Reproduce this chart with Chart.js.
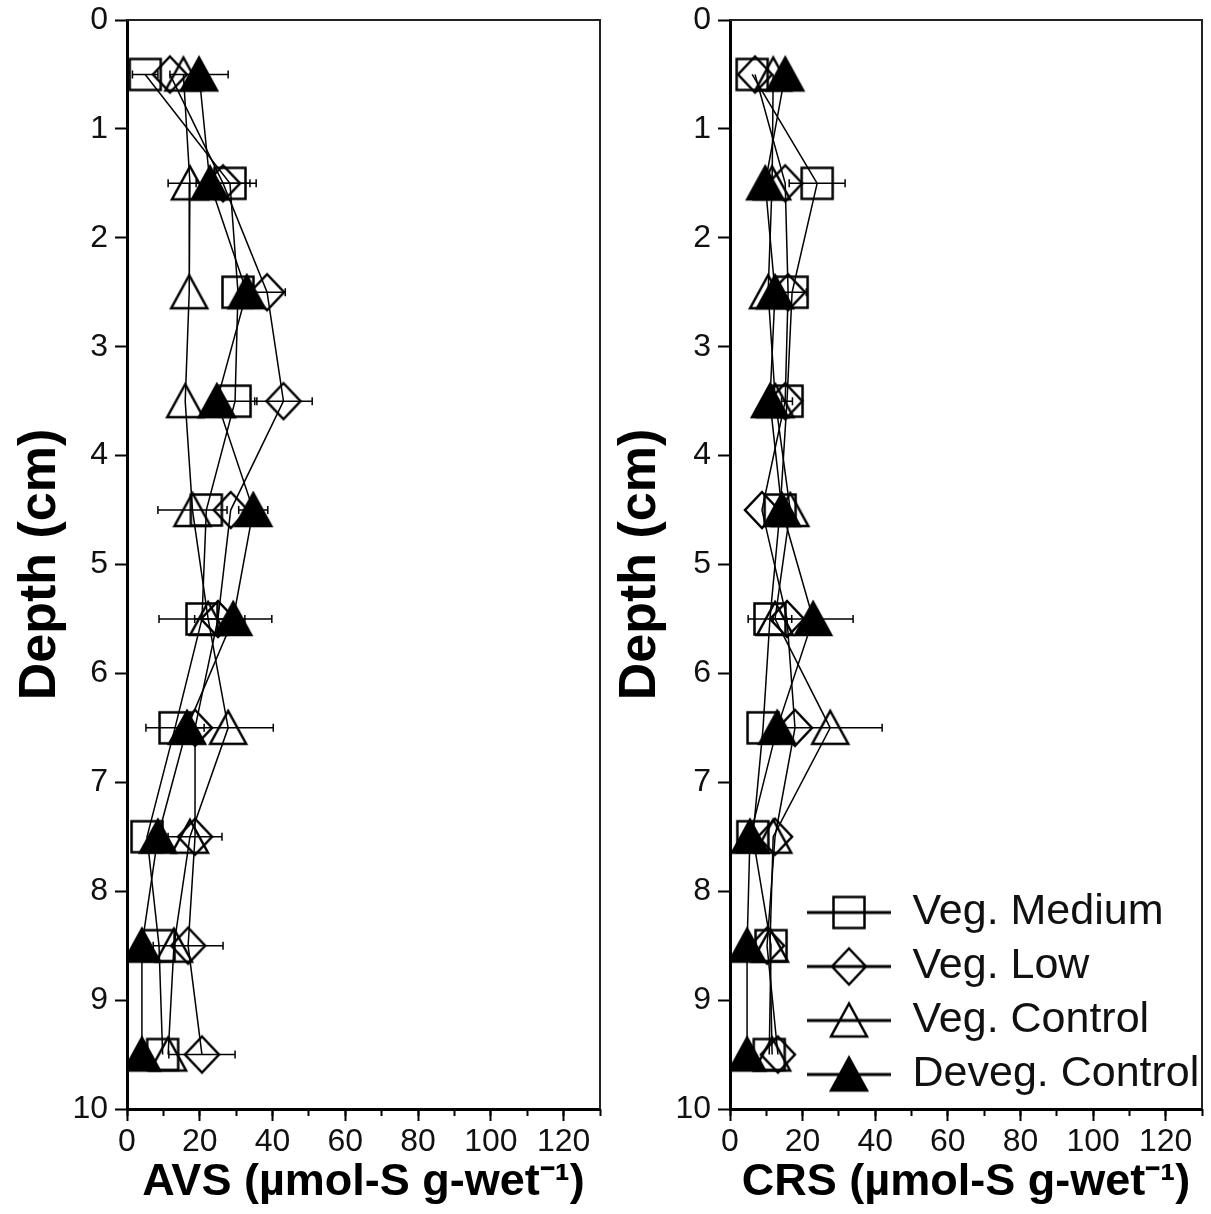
<!DOCTYPE html>
<html>
<head>
<meta charset="utf-8">
<script src="https://cdn.jsdelivr.net/npm/chart.js@4.4.1/dist/chart.umd.min.js"></script>
<style>
  body { margin: 0; background: #fff; }
  #wrap { position: relative; width: 1211px; height: 1214px; }
  canvas { position: absolute; top: 0; }
  #avsChart { left: 0; }
  #crsChart { left: 605px; }
</style>
</head>
<body>
<div id="wrap">
  <canvas id="avsChart" width="605" height="1214"></canvas>
  <canvas id="crsChart" width="606" height="1214"></canvas>
</div>
<script>
// ----- Data -----
const depths = [0.5, 1.5, 2.5, 3.5, 4.5, 5.5, 6.5, 7.5, 8.5, 9.5];
const seriesLabels = ['Veg. Medium', 'Veg. Low', 'Veg. Control', 'Deveg. Control'];
const xTicks = [0, 20, 40, 60, 80, 100, 120];
const xMinorTicks = [0, 10, 20, 30, 40, 50, 60, 70, 80, 90, 100, 110, 120, 130];
const depthTicks = [0, 1, 2, 3, 4, 5, 6, 7, 8, 9, 10];

// AVS (umol-S per g wet)
const avsVegMedium    = [5.0, 28.3, 30.5, 29.7, 21.8, 20.6, 13.2, 5.5, 8.8, 9.8];
const avsVegLow       = [11.8, 26.4, 38.5, 43.0, 28.5, 25.0, 18.7, 18.7, 16.8, 20.6];
const avsVegControl   = [15.5, 17.3, 17.1, 16.0, 18.0, 22.3, 27.8, 17.3, 12.9, 11.3];
const avsDevegControl = [19.8, 22.8, 32.9, 24.7, 34.7, 29.2, 16.5, 8.5, 4.1, 4.1];
// error half-widths, 0 = no bar
const avsVegMediumErr    = [3.5, 7.2, 0, 6.0, 0, 11.8, 8.0, 0, 0, 0];
const avsVegLowErr       = [0, 7.4, 5.0, 7.9, 0, 0, 0, 7.4, 9.6, 9.1];
const avsVegControlErr   = [0, 6.0, 0, 0, 9.5, 0, 12.4, 0, 0, 0];
const avsDevegControlErr = [8.0, 0, 0, 0, 4.0, 10.6, 0, 0, 0, 0];

// CRS (umol-S per g wet)
const crsVegMedium    = [6.1, 24.0, 17.1, 15.7, 13.8, 11.0, 9.1, 6.3, 11.3, 10.8];
const crsVegLow       = [6.9, 15.2, 16.0, 15.2, 8.8, 15.7, 17.9, 12.4, 10.2, 13.2];
const crsVegControl   = [11.9, 11.6, 10.5, 12.5, 16.6, 12.4, 27.6, 11.9, 11.0, 11.6];
const crsDevegControl = [15.2, 9.7, 12.4, 11.0, 14.3, 22.9, 13.0, 5.5, 4.7, 4.7];
const crsVegMediumErr    = [0, 7.7, 3.9, 1.5, 0, 6.0, 0, 0, 0, 0];
const crsVegLowErr       = [0, 0, 0, 0, 0, 0, 0, 0, 0, 0];
const crsVegControlErr   = [0, 0, 0, 0, 0, 0, 14.3, 0, 0, 0];
const crsDevegControlErr = [0, 0, 0, 0, 0, 11.0, 0, 0, 0, 0];

Chart.defaults.font.family = "'Liberation Sans', Arial, sans-serif";
Chart.defaults.color = '#111';
Chart.defaults.animation = false;

// ----- Marker glyphs (box-centred, drawn on small canvases) -----
const shapes = ['square', 'diamond', 'triangle', 'filledTriangle'];

function makeMarker(shape, lineLen) {
  const w = lineLen || 42, h = 42;
  const c = document.createElement('canvas');
  c.width = w; c.height = h;
  const g = c.getContext('2d');
  const cx = w / 2, cy = h / 2;
  g.strokeStyle = '#000';
  g.fillStyle = '#000';
  if (lineLen) {
    g.lineWidth = 3;
    g.beginPath(); g.moveTo(0, cy); g.lineTo(w, cy); g.stroke();
  }
  g.lineWidth = 2.5;
  g.lineJoin = 'miter';
  g.beginPath();
  if (shape === 'square') {
    g.rect(cx - 15.5, cy - 15.5, 31, 31);
  } else if (shape === 'diamond') {
    g.moveTo(cx, cy - 18); g.lineTo(cx + 17, cy); g.lineTo(cx, cy + 18); g.lineTo(cx - 17, cy); g.closePath();
  } else {
    g.moveTo(cx, cy - 17); g.lineTo(cx + 18, cy + 16); g.lineTo(cx - 18, cy + 16); g.closePath();
  }
  if (shape === 'filledTriangle') g.fill();
  g.stroke();
  return c;
}

const pointIcons = shapes.map(s => makeMarker(s));
const legendIcons = shapes.map(s => makeMarker(s, 84));

// ----- Plugins -----
const errorBars = {
  id: 'errorBars',
  beforeDatasetsDraw(chart) {
    const {ctx, scales: {x, y}} = chart;
    ctx.save();
    ctx.strokeStyle = '#000';
    ctx.lineWidth = 1.5;
    chart.data.datasets.forEach(ds => {
      ds.data.forEach((p, i) => {
        const e = ds.errors[i];
        if (!e) return;
        const py = y.getPixelForValue(p.y);
        const x0 = x.getPixelForValue(p.x - e);
        const x1 = x.getPixelForValue(p.x + e);
        ctx.beginPath();
        ctx.moveTo(x0, py); ctx.lineTo(x1, py);
        ctx.moveTo(x0, py - 4); ctx.lineTo(x0, py + 4);
        ctx.moveTo(x1, py - 4); ctx.lineTo(x1, py + 4);
        ctx.stroke();
      });
    });
    ctx.restore();
  }
};

// top and right edges of the plot box
const plotFrame = {
  id: 'plotFrame',
  beforeDatasetsDraw(chart) {
    const {ctx, chartArea: a} = chart;
    ctx.save();
    ctx.strokeStyle = '#222';
    ctx.lineWidth = 2;
    ctx.beginPath();
    ctx.moveTo(a.left, a.top); ctx.lineTo(a.right, a.top); ctx.lineTo(a.right, a.bottom);
    ctx.stroke();
    ctx.restore();
  }
};

// put the legend in the lower right corner of the plot
const legendCorner = {
  id: 'legendCorner',
  afterLayout(chart) {
    const lg = chart.legend;
    if (!lg || !lg.options.display) return;
    const h = lg.height;
    lg.left = 796 - 605;
    lg.right = chart.width;
    lg.top = 880;
    lg.bottom = lg.top + h;
  }
};

// ----- Chart builder -----
function buildDatasets(values, errors) {
  return values.map((vals, k) => ({
    label: seriesLabels[k],
    data: vals.map((v, i) => ({x: v, y: depths[i]})),
    errors: errors[k],
    xAxisID: 'x',
    yAxisID: 'y',
    order: 4 - k,
    borderColor: '#000',
    borderWidth: 1.5,
    backgroundColor: 'transparent',
    pointStyle: pointIcons[k],
    pointRadius: 16,
    tension: 0,
    fill: false
  }));
}

function noEdgePadding(s) {
  s.paddingLeft = 0;
  s.paddingRight = 0;
  s.paddingTop = 0;
  s.paddingBottom = 0;
}

function makePanel(canvasId, xTitle, values, errors, opts) {
  const tickFont = {size: 32};
  return new Chart(document.getElementById(canvasId), {
    type: 'line',
    data: {datasets: buildDatasets(values, errors)},
    plugins: [errorBars, plotFrame, legendCorner],
    options: {
      responsive: false,
      devicePixelRatio: 1,
      layout: {autoPadding: false, padding: {left: 0, top: 20, right: opts.rightPad, bottom: 0}},
      plugins: {
        tooltip: {enabled: false},
        legend: {
          display: opts.legend,
          position: 'chartArea',
          align: 'start',
          labels: {
            usePointStyle: true,
            pointStyleWidth: 84,
            padding: 11,
            color: '#111',
            font: {size: 43, lineHeight: 1.15},
            generateLabels: chart => chart.data.datasets.map((ds, i) => ({
              text: ds.label,
              pointStyle: legendIcons[i],
              datasetIndex: i,
              fontColor: '#111',
              fillStyle: 'transparent',
              strokeStyle: 'transparent',
              lineWidth: 0,
              hidden: false
            }))
          }
        }
      },
      scales: {
        x: {
          type: 'linear', position: 'bottom', min: 0, max: 130,
          afterBuildTicks: s => { s.ticks = xTicks.map(v => ({value: v})); },
          ticks: {font: tickFont, color: '#111', padding: 2, maxRotation: 0, autoSkip: false},
          grid: {drawOnChartArea: false, tickLength: 12, tickWidth: 2, tickColor: '#000'},
          border: {color: '#000', width: 3},
          title: {display: true, text: xTitle, color: '#000', font: {size: 45, weight: 'bold'}, padding: {top: 0, bottom: 4}},
          afterFit: s => { s.height = 105; noEdgePadding(s); }
        },
        xMinor: {
          type: 'linear', position: {y: 10}, min: 0, max: 130,
          afterBuildTicks: s => { s.ticks = xMinorTicks.map(v => ({value: v})); },
          ticks: {display: false},
          grid: {drawOnChartArea: false, tickLength: 7, tickWidth: 2, tickColor: '#000'},
          border: {display: false},
          afterFit: noEdgePadding
        },
        y: {
          type: 'linear', position: 'left', reverse: true, min: 0, max: 10,
          afterBuildTicks: s => { s.ticks = depthTicks.map(v => ({value: v})); },
          ticks: {font: tickFont, color: '#111', padding: 7},
          grid: {drawOnChartArea: false, tickLength: 12, tickWidth: 2, tickColor: '#000'},
          border: {color: '#000', width: 3},
          title: {display: true, text: 'Depth (cm)', color: '#000', font: {size: 52, weight: 'bold'}, padding: {top: opts.titlePad, bottom: 0}},
          afterFit: s => { s.width = opts.yWidth; noEdgePadding(s); }
        }
      }
    }
  });
}

makePanel('avsChart', 'AVS (µmol-S g-wet⁻¹)',
  [avsVegMedium, avsVegLow, avsVegControl, avsDevegControl],
  [avsVegMediumErr, avsVegLowErr, avsVegControlErr, avsDevegControlErr],
  {legend: false, rightPad: 5, yWidth: 127, titlePad: 9});

makePanel('crsChart', 'CRS (µmol-S g-wet⁻¹)',
  [crsVegMedium, crsVegLow, crsVegControl, crsDevegControl],
  [crsVegMediumErr, crsVegLowErr, crsVegControlErr, crsDevegControlErr],
  {legend: true, rightPad: 9, yWidth: 125, titlePad: 4});
</script>
</body>
</html>
